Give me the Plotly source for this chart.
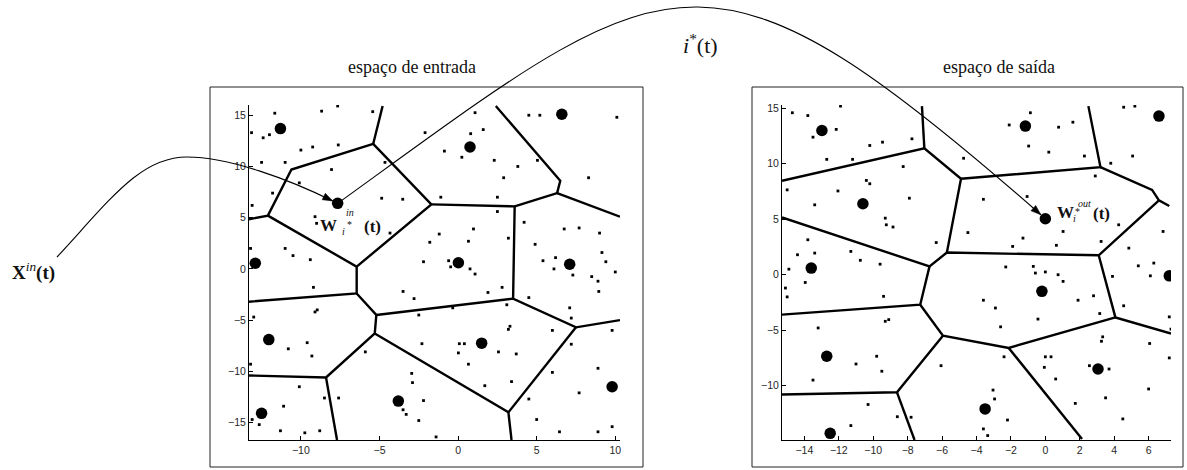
import math
import plotly.graph_objects as go

FIG_W, FIG_H = 1187, 470

# ---------------- axes ----------------
in_x_range = [-13.3, 10.3]
in_y_range = [-16.7, 16.0]
out_x_range = [-15.3, 7.3]
out_y_range = [-14.9, 15.3]

in_x_ticks = [-10, -5, 0, 5, 10]
in_y_ticks = [-15, -10, -5, 0, 5, 10, 15]
out_x_ticks = [-14, -12, -10, -8, -6, -4, -2, 0, 2, 4, 6]
out_y_ticks = [-10, -5, 0, 5, 10, 15]

# ---------------- espaço de entrada ----------------
in_prototypes = [(-11.3, 13.7), (-7.66, 6.4), (0.76, 11.9), (6.6, 15.1),
                 (-12.9, 0.55), (0.02, 0.6), (7.1, 0.45), (-12.04, -6.9),
                 (1.5, -7.25), (-12.5, -14.1), (-3.8, -12.9), (9.8, -11.5)]
in_winner = 1

in_samples = [
    (-11.66, 15.2), (-13.14, 13.3), (-12.4, 12.8), (-12.0, 13.1), (-8.68, 15.4),
    (-7.66, 15.9), (-5.43, 15.35), (-10.0, 11.6), (-9.25, 11.9), (-7.62, 12.1),
    (-12.5, 10.4), (-11.0, 10.4), (-8.05, 9.7), (-10.1, 8.4), (-11.8, 7.4),
    (-13.1, 6.2), (-9.1, 5.1), (-9.0, 4.45), (-4.86, 6.9), (-4.65, 10.4),
    (-3.52, 6.8), (-4.33, 3.5), (-11.0, 2.0), (-10.5, 1.3), (-9.4, 0.9),
    (-13.2, 2.0), (-9.2, -1.8),
    (4.5, 15.0), (5.2, 15.0), (10.1, 14.8), (1.08, 15.25), (-2.1, 13.3),
    (0.8, 13.2), (1.6, 13.6), (-0.87, 11.5), (0.24, 10.9), (2.3, 10.6),
    (3.8, 10.0), (5.05, 10.6), (2.9, 8.9), (8.3, 8.9), (-1.1, 7.0), (2.5, 7.0),
    (2.5, 5.6), (4.2, 4.55), (0.98, 3.9), (-1.2, 3.4), (-1.8, 2.6), (0.66, 2.7),
    (3.2, 3.0), (4.9, 2.4), (6.75, 3.9), (7.7, 4.0), (9.0, 3.5),
    (-2.2, 0.7), (-0.6, 0.8), (-0.47, 0.2), (0.76, 0.0), (1.08, -0.5),
    (-3.5, -2.2), (-2.8, -2.9), (1.9, -2.3), (2.8, -1.8), (5.4, 0.8), (6.2, 1.1),
    (6.1, 0.0), (7.3, -0.6), (8.5, -0.75), (8.9, -1.2), (8.95, -2.2), (9.15, 1.6),
    (9.4, 0.7), (10.0, -0.3), (4.5, -2.8), (3.1, -3.5), (-0.34, -3.8),
    (-2.5, -4.5), (7.1, -3.8), (7.2, -4.8), (3.3, -5.6), (3.2, -5.9), (6.0, -6.0),
    (9.8, -6.0), (7.2, -7.35), (-2.3, -7.3), (0.08, -7.3), (0.4, -7.3),
    (0.02, -8.2), (2.57, -8.1), (3.7, -8.3), (0.66, -9.3), (-2.95, -10.2),
    (-2.9, -11.1), (1.7, -11.4), (3.4, -11.0), (6.0, -10.1), (8.9, -9.7),
    (7.7, -12.1), (4.5, -12.7), (-2.2, -12.85), (-3.5, -13.75), (-3.3, -14.2),
    (-2.5, -14.8), (5.0, -14.7), (6.45, -15.9), (8.9, -15.9), (9.8, -15.4),
    (-1.4, -16.4),
    (-9.1, -4.2), (-8.96, -4.0), (-13.0, -4.7), (-9.6, -7.2), (-10.8, -7.8),
    (-9.3, -8.5), (-5.9, -8.1), (-13.2, -9.3), (-10.1, -11.5), (-8.5, -12.6),
    (-7.6, -12.6), (-11.1, -13.4), (-13.1, -14.7), (-12.65, -15.2),
    (-11.3, -15.8), (-9.75, -16.0), (-8.8, -15.8),
]

in_edges = [
    [(-4.8, 15.9), (-5.4, 12.2)],
    [(-5.4, 12.2), (-10.6, 9.7), (-12.1, 5.2), (-13.3, 4.85)],
    [(-12.1, 5.2), (-6.45, 0.22), (-6.45, -2.4), (-13.3, -3.2)],
    [(-5.4, 12.2), (-1.7, 6.3), (-6.45, 0.22)],
    [(-1.7, 6.3), (3.6, 6.1), (3.5, -2.9)],
    [(3.6, 6.1), (6.3, 7.4), (6.5, 8.6), (2.4, 15.9)],
    [(6.3, 7.4), (10.3, 5.1)],
    [(-6.45, -2.4), (-5.2, -4.5), (-5.3, -6.3), (-8.4, -10.6), (-13.3, -10.4)],
    [(-5.2, -4.5), (3.5, -2.9), (7.5, -5.7), (10.3, -5.0)],
    [(-8.4, -10.6), (-7.7, -16.7)],
    [(-5.3, -6.3), (3.2, -14.0), (3.4, -16.7)],
    [(3.2, -14.0), (7.5, -5.7)],
]

# ---------------- espaço de saída ----------------
out_prototypes = [(-12.98, 13.0), (-10.6, 6.4), (-1.16, 13.4), (6.6, 14.3),
                  (0.0, 5.05), (-13.6, 0.6), (-0.2, -1.5), (7.2, -0.1),
                  (-12.7, -7.35), (3.06, -8.5), (-12.5, -14.3), (-3.5, -12.1)]
out_winner = 4

out_samples = [
    (-14.7, 14.6), (-13.8, 14.35), (-11.9, 15.2), (-12.15, 13.1), (-13.5, 12.4),
    (-10.2, 11.65), (-9.46, 11.95), (-7.75, 12.25), (-12.7, 10.4), (-11.2, 10.4),
    (-8.26, 9.75), (-10.4, 8.5), (-10.2, 8.2), (-15.0, 7.65), (-12.05, 7.55),
    (-13.4, 6.3), (-7.9, 6.9), (-9.3, 5.1), (-9.24, 4.5), (-8.85, 4.3),
    (-13.8, 3.15), (-6.34, 2.9),
    (-0.87, 14.6), (-2.1, 13.5), (0.77, 13.3), (1.6, 13.75), (4.55, 15.1),
    (5.2, 15.2), (-0.97, 11.6), (0.2, 11.05), (2.27, 10.7), (3.8, 10.05),
    (5.07, 10.7), (-4.75, 10.5), (2.9, 8.9), (-3.6, 6.8), (-1.06, 7.05),
    (-4.5, 3.8), (-1.3, 3.3), (-1.9, 2.55), (0.64, 2.65), (1.03, 3.9),
    (3.24, 3.0), (4.26, 4.5), (4.85, 2.4), (6.84, 3.9),
    (-14.4, 1.8), (-13.4, 1.95), (-14.9, 0.5), (-13.95, -0.7), (-15.1, -1.2),
    (-15.0, -2.0), (-11.3, 2.1), (-10.75, 1.3), (-9.6, 0.95), (-9.4, -1.95),
    (-9.3, -4.2), (-9.1, -4.05), (-13.2, -4.8), (-9.8, -7.35), (-11.0, -8.05),
    (-9.5, -8.7), (-13.5, -9.5), (-6.06, -8.2), (-10.3, -11.7), (-11.3, -13.6),
    (-8.6, -12.8), (-7.8, -12.85),
    (5.4, 0.8), (6.3, 1.05), (6.1, -0.1), (3.9, -0.15), (-2.3, 0.7), (-0.7, 0.75),
    (-0.58, 0.15), (0.0, 0.25), (0.74, 0.0), (1.03, -0.6), (1.9, -2.3),
    (2.8, -1.9), (4.55, -2.8), (7.2, -3.8), (7.3, -4.9), (-3.6, -2.3),
    (-2.9, -3.0), (-0.43, -4.0), (-2.6, -4.7), (3.16, -3.5), (3.33, -5.6),
    (3.26, -6.0), (6.06, -6.2), (7.2, -7.5), (-2.4, -7.4), (0.0, -7.4),
    (0.33, -7.4), (-0.06, -8.35), (2.56, -8.2), (3.7, -8.5), (0.6, -9.4),
    (-3.04, -10.4), (-2.95, -11.2), (1.74, -11.6), (3.5, -11.1), (6.0, -10.3),
    (-2.2, -13.1), (4.5, -13.0), (-3.6, -13.9), (-3.35, -14.5),
]

out_edges = [
    [(-7.17, 15.2), (-7.03, 11.4)],
    [(-15.3, 8.47), (-7.03, 11.4), (-4.9, 8.65), (-5.72, 2.0)],
    [(-4.9, 8.65), (3.2, 9.7), (2.5, 15.2)],
    [(3.2, 9.7), (6.2, 7.65), (6.6, 6.7), (7.2, 6.2)],
    [(6.6, 6.7), (3.1, 1.75), (-5.72, 2.0), (-6.73, 0.75), (-15.3, 5.16)],
    [(-6.73, 0.75), (-7.27, -2.7), (-15.3, -3.6)],
    [(3.1, 1.75), (4.07, -3.85), (7.3, -5.3)],
    [(4.07, -3.85), (-2.13, -6.6), (-5.95, -5.5), (-7.27, -2.7)],
    [(-5.95, -5.5), (-8.62, -10.6), (-15.3, -10.8)],
    [(-8.62, -10.6), (-7.6, -14.9)],
    [(-2.13, -6.6), (2.13, -14.8)],
]

# ---------------- page geometry (pixels) ----------------
IN_AREA = (249, 620, 105, 440)     # left, right, top, bottom of plot area
OUT_AREA = (782, 1171, 105, 440)
IN_FRAME = (210, 643, 87, 467)
OUT_FRAME = (752, 1183, 87, 467)

SERIF = "Liberation Serif"
SANS = "Liberation Sans"


def pp(px, py):
    return px / FIG_W, 1 - py / FIG_H


def dom_x(a):
    return [a[0] / FIG_W, a[1] / FIG_W]


def dom_y(a):
    return [1 - a[3] / FIG_H, 1 - a[2] / FIG_H]


def to_px(area, xr, yr, x, y):
    l, r, t, b = area
    return (l + (x - xr[0]) / (xr[1] - xr[0]) * (r - l),
            b - (y - yr[0]) / (yr[1] - yr[0]) * (b - t))


def edge_xy(edges):
    xs, ys = [], []
    for poly in edges:
        xs += [p[0] for p in poly] + [None]
        ys += [p[1] for p in poly] + [None]
    return xs, ys


fig = go.Figure()

for edges, protos, samples, xa, ya in [
    (in_edges, in_prototypes, in_samples, "x", "y"),
    (out_edges, out_prototypes, out_samples, "x2", "y2"),
]:
    ex, ey = edge_xy(edges)
    fig.add_trace(go.Scatter(x=ex, y=ey, mode="lines", xaxis=xa, yaxis=ya,
                             line=dict(color="black", width=2.4),
                             hoverinfo="skip", showlegend=False))
    fig.add_trace(go.Scatter(x=[p[0] for p in samples], y=[p[1] for p in samples],
                             mode="markers", xaxis=xa, yaxis=ya,
                             marker=dict(color="black", size=2.8, symbol="square"),
                             showlegend=False))
    fig.add_trace(go.Scatter(x=[p[0] for p in protos], y=[p[1] for p in protos],
                             mode="markers", xaxis=xa, yaxis=ya,
                             marker=dict(color="black", size=11.5),
                             showlegend=False))

# ---------------- curved arrows ----------------
win_in = to_px(IN_AREA, in_x_range, in_y_range, *in_prototypes[in_winner])
win_out = to_px(OUT_AREA, out_x_range, out_y_range, *out_prototypes[out_winner])


def unit(a, b):
    dx, dy = b[0] - a[0], b[1] - a[1]
    n = math.hypot(dx, dy)
    return dx / n, dy / n


def tip_towards(ctrl, dot, gap):
    ux, uy = unit(ctrl, dot)
    return (dot[0] - gap * ux, dot[1] - gap * uy), (ux, uy)


def path_str(segments):
    start = segments[0]
    s = "M %.5f,%.5f" % pp(*start)
    rest = segments[1:]
    for i in range(0, len(rest), 3):
        c1, c2, e = rest[i:i + 3]
        s += " C %.5f,%.5f %.5f,%.5f %.5f,%.5f" % (pp(*c1) + pp(*c2) + pp(*e))
    return s


def head(tip, u, length=10.0, half=3.6):
    bx, by = tip[0] - length * u[0], tip[1] - length * u[1]
    nx, ny = -u[1], u[0]
    a = pp(bx + half * nx, by + half * ny)
    b = pp(bx - half * nx, by - half * ny)
    t = pp(*tip)
    return "M %.5f,%.5f L %.5f,%.5f L %.5f,%.5f Z" % (t + a + b)


# x^in(t) -> W_i*^in(t)
c4 = (290, 180)
tip1, u1 = tip_towards(c4, win_in, 5.5)
curve1 = [(57, 257), (110, 200), (140, 157), (187, 157),
          (230, 157), c4, tip1]
# W_i*^in(t) -> W_i*^out(t)
c2b = (702, -83)
tip2, u2 = tip_towards(c2b, win_out, 6.0)
curve2 = [win_in, (670, -37), c2b, tip2]

shapes = []
for curve, tip, u in [(curve1, tip1, u1), (curve2, tip2, u2)]:
    shapes.append(dict(type="path", xref="paper", yref="paper",
                       path=path_str(curve), line=dict(color="black", width=1.1)))
    shapes.append(dict(type="path", xref="paper", yref="paper",
                       path=head(tip, u), fillcolor="black",
                       line=dict(color="black", width=0.5)))

for fr in (IN_FRAME, OUT_FRAME):
    x0, y0 = pp(fr[0], fr[3])
    x1, y1 = pp(fr[1], fr[2])
    shapes.append(dict(type="rect", xref="paper", yref="paper",
                       x0=x0, y0=y0, x1=x1, y1=y1,
                       line=dict(color="#222", width=1), layer="below"))

# ---------------- text ----------------
annotations = []


def paper_text(txt, px, py, size, anchor="center"):
    x, y = pp(px, py)
    annotations.append(dict(text=txt, x=x, y=y, xref="paper", yref="paper",
                            xanchor=anchor, yanchor="middle", showarrow=False,
                            font=dict(family=SERIF, size=size, color="#111")))


paper_text("espaço de entrada", 412, 67, 18)
paper_text("espaço de saída", 999, 67, 18)
paper_text("<i>i</i><sup>*</sup>(t)", 700, 44, 22)
paper_text("<b>X</b><sup><i>in</i></sup><b>(t)</b>", 10, 271, 19, anchor="left")


def w_label(xa, ya, proto, parts):
    for txt, dx, dy, size, weight, style in parts:
        annotations.append(dict(text=txt, x=proto[0], y=proto[1], xref=xa, yref=ya,
                                xshift=dx, yshift=dy, showarrow=False,
                                xanchor="center", yanchor="middle",
                                font=dict(family=SERIF, size=size, color="#111",
                                          weight=weight, style=style)))


w_label("x", "y", in_prototypes[in_winner], [
    ("W", -9.5, -22, 17, "bold", "normal"),
    ("i", 5.5, -28, 10, "normal", "italic"),
    ("*", 12, -21, 10, "normal", "normal"),
    ("in", 12.5, -9, 10, "normal", "italic"),
    ("(t)", 35, -23, 17, "bold", "normal"),
])
w_label("x2", "y2", out_prototypes[out_winner], [
    ("W", 20.5, 6, 17, "bold", "normal"),
    ("i", 29.5, 0, 10, "normal", "italic"),
    ("*", 32.5, 7, 10, "normal", "normal"),
    ("out", 39, 15, 10, "normal", "italic"),
    ("(t)", 56.5, 5, 17, "bold", "normal"),
])


# ---------------- layout ----------------
def axis(domain, rng, ticks, anchor):
    return dict(domain=domain, range=rng, tickvals=ticks, anchor=anchor,
                showline=True, linecolor="black", linewidth=1, mirror=False,
                ticks="inside", ticklen=4, tickwidth=1, tickcolor="black",
                showgrid=False, zeroline=False, fixedrange=True,
                tickfont=dict(family=SANS, size=10.5, color="#262626"))


fig.update_layout(
    width=FIG_W, height=FIG_H,
    margin=dict(l=0, r=0, t=0, b=0, pad=0),
    paper_bgcolor="white", plot_bgcolor="white",
    template="none",
    showlegend=False,
    font=dict(family=SANS),
    xaxis=axis(dom_x(IN_AREA), in_x_range, in_x_ticks, "y"),
    yaxis=axis(dom_y(IN_AREA), in_y_range, in_y_ticks, "x"),
    xaxis2=axis(dom_x(OUT_AREA), out_x_range, out_x_ticks, "y2"),
    yaxis2=axis(dom_y(OUT_AREA), out_y_range, out_y_ticks, "x2"),
    shapes=shapes,
    annotations=annotations,
)

fig.write_html("out.html")
